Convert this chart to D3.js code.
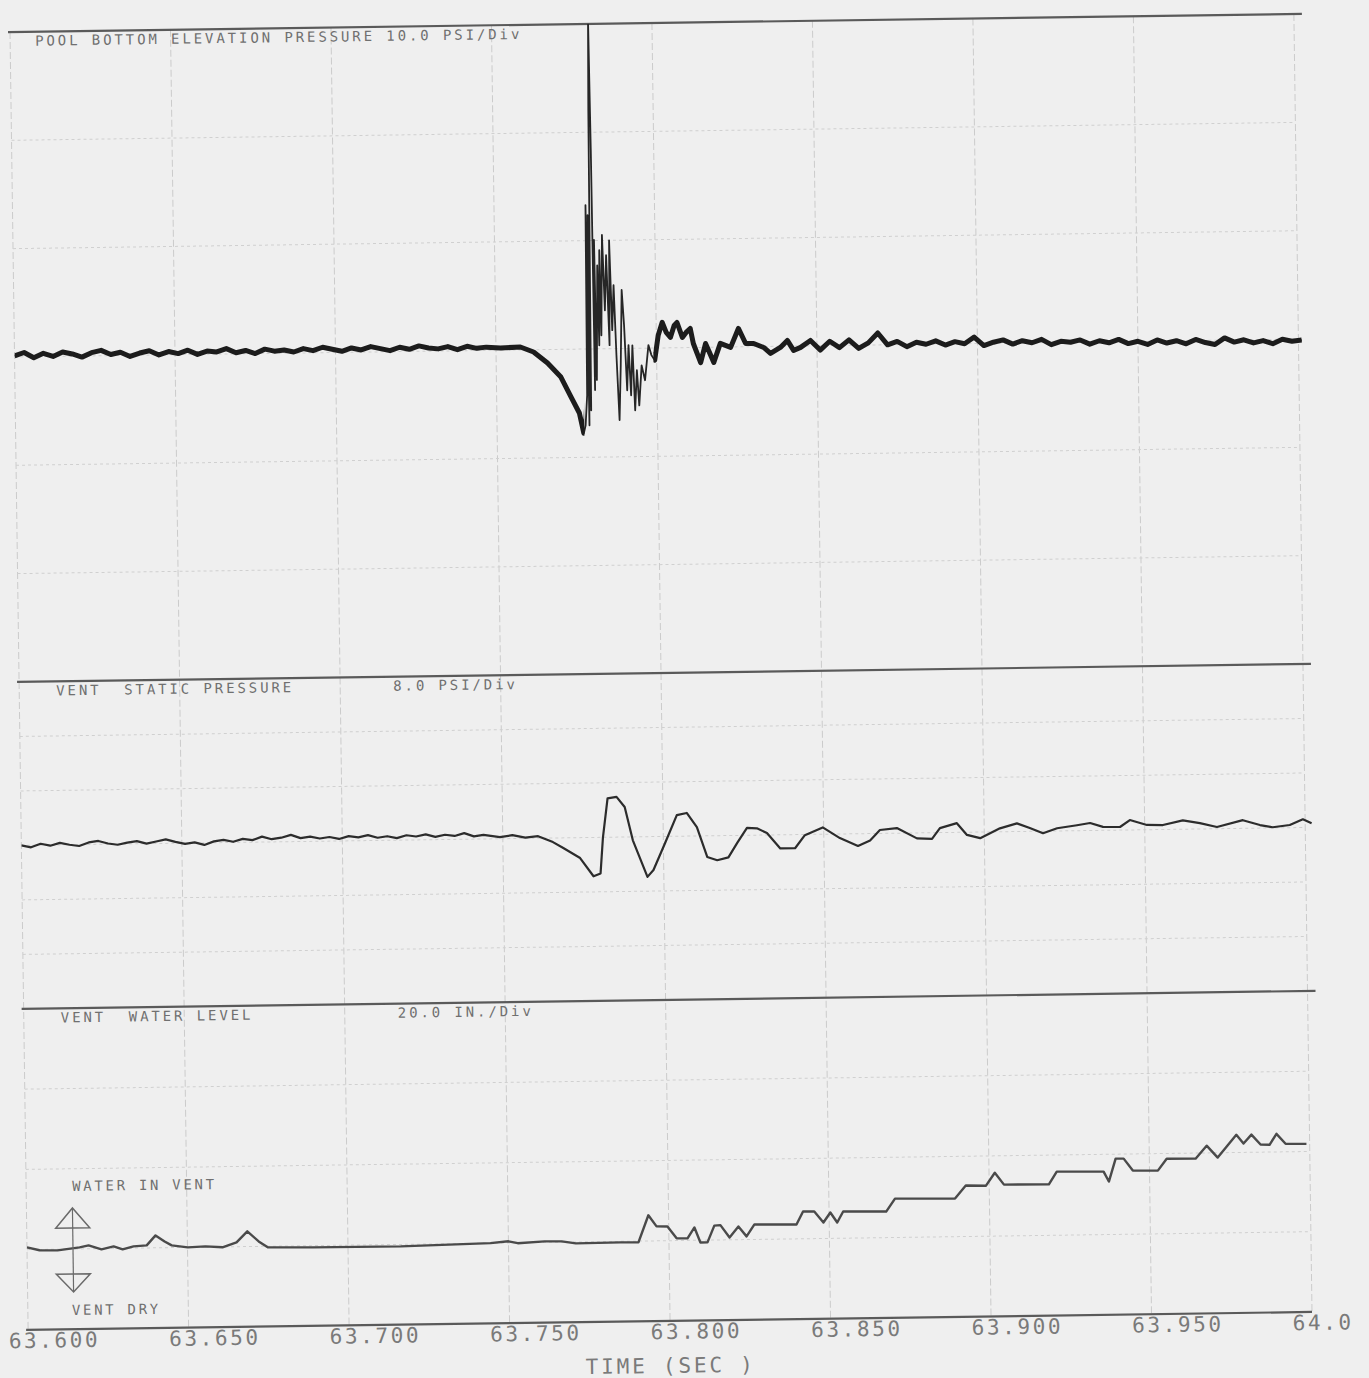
<!DOCTYPE html>
<html>
<head>
<meta charset="utf-8">
<title>Pool bottom and vent traces</title>
<script src="https://cdn.jsdelivr.net/npm/d3@7"></script>
<style>
  body { margin: 0; background: #efefef; }
  svg { display: block; }
  text { font-family: 'DejaVu Sans Mono', monospace; fill: #707070; white-space: pre; }
</style>
</head>
<body>
<svg id="chart"></svg>
<script>
// time axis
var timeTicks = [63.600, 63.650, 63.700, 63.750, 63.800, 63.850, 63.900, 63.950, 64.000];
var timeLabels = ['63.600', '63.650', '63.700', '63.750', '63.800', '63.850', '63.900', '63.950', '64.0'];

// panel titles
var panelTitles = [
  ['POOL BOTTOM ELEVATION PRESSURE 10.0 PSI/Div', ''],
  ['VENT  STATIC PRESSURE', '8.0 PSI/Div'],
  ['VENT  WATER LEVEL', '20.0 IN./Div']
];

// pool bottom elevation pressure, [sec, psi]
var poolBottom = [
  [63.600, 0.1], [63.603, 0.4], [63.606, -0.1], [63.609, 0.3], [63.612, 0.0], [63.615, 0.4],
  [63.618, 0.2], [63.621, -0.1], [63.624, 0.3], [63.627, 0.5], [63.630, 0.1], [63.633, 0.3],
  [63.636, -0.1], [63.639, 0.2], [63.642, 0.4], [63.645, 0.0], [63.648, 0.3], [63.651, 0.1],
  [63.654, 0.4], [63.657, 0.0], [63.660, 0.3], [63.663, 0.2], [63.666, 0.5], [63.669, 0.1],
  [63.672, 0.3], [63.675, 0.0], [63.678, 0.4], [63.681, 0.2], [63.684, 0.3], [63.687, 0.1],
  [63.690, 0.4], [63.693, 0.2], [63.696, 0.5], [63.699, 0.3], [63.702, 0.1], [63.705, 0.4],
  [63.708, 0.2], [63.711, 0.5], [63.714, 0.3], [63.717, 0.1], [63.720, 0.4], [63.723, 0.2],
  [63.726, 0.5], [63.729, 0.3], [63.732, 0.2], [63.735, 0.4], [63.738, 0.1], [63.741, 0.4],
  [63.744, 0.2], [63.747, 0.3], [63.7514, 0.2], [63.7576, 0.27], [63.7617, -0.21],
  [63.7660, -1.25], [63.7701, -2.56], [63.7732, -4.42], [63.7757, -5.9], [63.7770, -7.78],
  [63.7776, -7.04], [63.7782, -4.28], [63.7785, 13.27], [63.7788, -7.05], [63.7791, 12.35],
  [63.7794, -5.66], [63.7798, 22.05], [63.7801, 30.3], [63.7804, 18.34], [63.7807, -3.8],
  [63.7810, 10.05], [63.7813, -2.87], [63.7819, 7.7], [63.7822, 0.33], [63.7826, 9.1],
  [63.7829, 1.25], [63.7835, 10.5], [63.7841, 3.55], [63.7847, 8.63], [63.7854, 0.32],
  [63.7857, 10.0], [63.7863, 1.7], [63.7869, 5.85], [63.7875, -0.62], [63.7882, -6.6],
  [63.7888, -1.53], [63.7894, 5.4], [63.7900, 2.15], [63.7907, -3.86], [63.7913, 0.3],
  [63.7919, -4.33], [63.7925, 0.28], [63.7931, -5.72], [63.7938, -2.03], [63.7944, -5.27],
  [63.7953, -1.58], [63.7963, -2.96], [63.7975, 0.28], [63.7984, -0.65], [63.7994, -1.12],
  [63.8006, 1.18], [63.8019, 2.36], [63.8031, 1.43], [63.8044, 0.97], [63.8056, 2.06],
  [63.8065, 2.33], [63.8081, 0.94], [63.8093, 1.4], [63.8106, 1.76], [63.8115, 0.37],
  [63.8137, -1.4], [63.8153, 0.35], [63.8178, -1.4], [63.8199, 0.34], [63.8231, -0.04],
  [63.8256, 1.7], [63.8278, 0.3], [63.8303, 0.29], [63.8334, -0.09], [63.8355, -0.65],
  [63.8386, -0.11], [63.8408, 0.53], [63.8427, -0.4], [63.8449, -0.13], [63.848, 0.5],
  [63.851, -0.4], [63.854, 0.4], [63.857, -0.2], [63.860, 0.5], [63.863, -0.3], [63.866, 0.2],
  [63.869, 1.1], [63.872, 0.0], [63.875, 0.3], [63.878, -0.2], [63.881, 0.2], [63.884, 0.0],
  [63.887, 0.3], [63.890, -0.1], [63.893, 0.2], [63.896, 0.0], [63.899, 0.6], [63.902, -0.2],
  [63.905, 0.1], [63.908, 0.3], [63.911, -0.1], [63.914, 0.2], [63.917, 0.0], [63.920, 0.3],
  [63.923, -0.2], [63.926, 0.1], [63.929, 0.0], [63.932, 0.2], [63.935, -0.2], [63.938, 0.1],
  [63.941, -0.1], [63.944, 0.2], [63.947, -0.2], [63.950, 0.0], [63.953, -0.3], [63.956, 0.1],
  [63.959, -0.2], [63.962, 0.0], [63.965, -0.3], [63.968, 0.1], [63.971, -0.2], [63.974, -0.4],
  [63.977, 0.2], [63.980, -0.2], [63.983, 0.0], [63.986, -0.3], [63.989, -0.1], [63.992, -0.4],
  [63.995, 0.0], [63.998, -0.2], [64.001, -0.1]
];

// vent static pressure, [sec, psi]
var ventStatic = [
  [63.600, 0.0], [63.603, -0.3], [63.606, 0.2], [63.609, -0.1], [63.612, 0.3], [63.615, 0.0],
  [63.618, -0.2], [63.621, 0.3], [63.624, 0.5], [63.627, 0.1], [63.630, -0.1], [63.633, 0.2],
  [63.636, 0.4], [63.639, 0.0], [63.642, 0.3], [63.645, 0.6], [63.648, 0.2], [63.651, -0.1],
  [63.654, 0.1], [63.657, -0.3], [63.660, 0.2], [63.663, 0.4], [63.666, 0.1], [63.669, 0.5],
  [63.672, 0.3], [63.675, 0.8], [63.678, 0.4], [63.681, 0.6], [63.684, 1.0], [63.687, 0.5],
  [63.690, 0.7], [63.693, 0.4], [63.696, 0.6], [63.699, 0.3], [63.702, 0.7], [63.705, 0.5],
  [63.708, 0.8], [63.711, 0.4], [63.714, 0.6], [63.717, 0.3], [63.720, 0.7], [63.723, 0.5],
  [63.726, 0.8], [63.729, 0.4], [63.732, 0.7], [63.735, 0.5], [63.738, 0.9], [63.741, 0.4],
  [63.744, 0.6], [63.7491, 0.24], [63.753, 0.5], [63.757, 0.1], [63.761, 0.3],
  [63.7656, -0.6], [63.7688, -1.5], [63.7740, -3.0], [63.7781, -5.7], [63.7803, -5.3],
  [63.7812, 0.0], [63.7828, 5.7], [63.7856, 5.9], [63.7881, 4.4], [63.7905, -0.5],
  [63.7949, -5.9], [63.7968, -4.9], [63.8005, -1.0], [63.8043, 3.1], [63.8074, 3.4],
  [63.8105, 1.3], [63.8136, -3.1], [63.8167, -3.6], [63.8202, -3.2], [63.8230, -1.1],
  [63.8261, 1.1], [63.8292, 1.0], [63.8323, 0.3], [63.8364, -2.0], [63.8410, -2.0],
  [63.8441, -0.1], [63.8497, 1.0], [63.8550, -0.6], [63.8606, -1.8], [63.8644, -1.0],
  [63.8675, 0.5], [63.8728, 0.75], [63.8790, -0.8], [63.8837, -0.9], [63.8862, 0.65],
  [63.8915, 1.35], [63.8946, -0.4], [63.8987, -0.9], [63.9049, 0.5], [63.9102, 1.2],
  [63.9142, 0.5], [63.9183, -0.3], [63.9227, 0.4], [63.9289, 0.8], [63.9330, 1.1],
  [63.9370, 0.5], [63.9423, 0.45], [63.9454, 1.45], [63.9507, 0.7], [63.9557, 0.65],
  [63.9619, 1.3], [63.9672, 0.85], [63.9725, 0.25], [63.9806, 1.2], [63.9859, 0.45],
  [63.9899, 0.1], [63.9952, 0.4], [63.9993, 1.2], [64.002, 0.6]
];

// vent water level, [sec, in]
var ventLevel = [
  [63.600, 0.57], [63.6039, -0.2], [63.6095, -0.3], [63.6164, 0.37], [63.6192, 0.84],
  [63.6232, -0.2], [63.6270, 0.5], [63.6298, -0.27], [63.6332, 0.45], [63.6373, 0.65],
  [63.6401, 3.1], [63.6429, 1.56], [63.6451, 0.55], [63.6501, 0.0], [63.6556, 0.2],
  [63.6609, -0.1], [63.6653, 1.1], [63.6687, 3.8], [63.6722, 1.25], [63.6750, -0.27],
  [63.6890, -0.42], [63.7164, -0.5], [63.7444, 0.0], [63.7500, 0.4], [63.7529, -0.1],
  [63.7613, 0.25], [63.7666, 0.2], [63.7710, -0.35], [63.7849, -0.25], [63.7905, -0.3],
  [63.7937, 6.4], [63.7962, 3.6], [63.7996, 3.55], [63.8024, 0.55], [63.8058, 0.5],
  [63.8080, 3.2], [63.8098, -0.55], [63.8120, -0.57], [63.8142, 3.6], [63.8161, 3.7],
  [63.8189, 0.6], [63.8217, 3.3], [63.8242, 0.8], [63.8267, 3.75], [63.8398, 3.6],
  [63.8419, 6.8], [63.8454, 6.76], [63.8482, 4.0], [63.8504, 6.46], [63.8525, 3.95],
  [63.8544, 6.66], [63.8678, 6.5], [63.8706, 9.7], [63.8893, 9.5], [63.8927, 12.7],
  [63.8990, 12.6], [63.9018, 15.8], [63.9046, 12.8], [63.9186, 12.7], [63.9211, 15.85],
  [63.9357, 15.7], [63.9373, 13.2], [63.9395, 18.9], [63.9420, 18.86], [63.9448, 15.85],
  [63.9526, 15.75], [63.9554, 18.7], [63.9644, 18.6], [63.9679, 21.8], [63.9713, 18.8],
  [63.9772, 24.4], [63.9794, 22.2], [63.9819, 24.4], [63.9847, 21.9], [63.9875, 21.8],
  [63.9897, 24.5], [63.9925, 22.0], [63.9990, 21.9]
];

var width = 1369, height = 1378;
var W = 1284;          // 8 time divisions
var H = 1298;          // bottom of the lowest panel

var svg = d3.select('#chart')
  .attr('width', width)
  .attr('height', height);

// the sheet sits slightly skewed on the scan
var g = svg.append('g')
  .attr('transform', 'translate(10,32) rotate(-0.8)');

var x = d3.scaleLinear()
  .domain([63.6, 64.0])
  .range([0, W]);

var panels = [
  { top: 0, h: 650, dom: [-30, 30], divs: 6, data: poolBottom, color: '#262626', sw: 1.8 },
  { top: 650, h: 327, dom: [-24, 24], divs: 6, data: ventStatic, color: '#2c2c2c', sw: 2.2 },
  { top: 977, h: 321, dom: [-20, 60], divs: 4, data: ventLevel, color: '#4a4a4a', sw: 2.4 }
];

// vertical grid
g.selectAll('.vgrid')
  .data(timeTicks)
  .enter()
  .append('line')
  .attr('x1', d => x(d))
  .attr('x2', d => x(d))
  .attr('y1', 0)
  .attr('y2', H)
  .style('stroke', '#cbcbcb')
  .style('stroke-width', 1)
  .style('stroke-dasharray', '7,3');

panels.forEach(function (p, i) {
  var y = d3.scaleLinear()
    .domain(p.dom)
    .range([p.top + p.h, p.top]);

  var step = (p.dom[1] - p.dom[0]) / p.divs;
  var levels = d3.range(1, p.divs).map(k => p.dom[0] + k * step);

  g.selectAll('.hgrid' + i)
    .data(levels)
    .enter()
    .append('line')
    .attr('x1', 0)
    .attr('x2', W)
    .attr('y1', d => y(d))
    .attr('y2', d => y(d))
    .style('stroke', '#d0d0d0')
    .style('stroke-width', 1)
    .style('stroke-dasharray', '3,3');

  // panel separator
  g.append('line')
    .attr('x1', -2)
    .attr('x2', W + 8)
    .attr('y1', p.top)
    .attr('y2', p.top)
    .style('stroke', '#5a5a5a')
    .style('stroke-width', 2.2);

  g.append('clipPath')
    .attr('id', 'clip' + i)
    .append('rect')
    .attr('x', 0)
    .attr('y', p.top)
    .attr('width', W + 12)
    .attr('height', p.h);

  var line = d3.line()
    .x(d => x(d[0]))
    .y(d => y(d[1]));

  g.append('path')
    .datum(p.data)
    .attr('d', line)
    .attr('clip-path', 'url(#clip' + i + ')')
    .style('fill', 'none')
    .style('stroke', p.color)
    .style('stroke-width', p.sw)
    .style('stroke-linejoin', 'round');

  if (i == 0) {
    // the slow parts of the pool trace print as a heavy band; the ringing stays hairline
    var band = g.append('clipPath').attr('id', 'band0');
    band.append('rect')
      .attr('x', 0).attr('y', 0)
      .attr('width', x(63.7772)).attr('height', p.h);
    band.append('rect')
      .attr('x', x(63.7990)).attr('y', 0)
      .attr('width', W + 12 - x(63.7990)).attr('height', p.h);
    g.append('path')
      .datum(p.data)
      .attr('d', line)
      .attr('clip-path', 'url(#band0)')
      .style('fill', 'none')
      .style('stroke', '#1c1c1c')
      .style('stroke-width', 5)
      .style('stroke-linejoin', 'round');
  }

  var t = g.append('text')
    .attr('y', p.top + 14)
    .style('font-size', '14px')
    .style('letter-spacing', '2.9px');
  t.append('tspan')
    .attr('x', i == 0 ? 25 : 37)
    .text(panelTitles[i][0]);
  if (panelTitles[i][1]) {
    t.append('tspan')
      .attr('x', 374)
      .text(panelTitles[i][1]);
  }
});

// time axis line
g.append('line')
  .attr('x1', -2)
  .attr('x2', W)
  .attr('y1', H)
  .attr('y2', H)
  .style('stroke', '#5a5a5a')
  .style('stroke-width', 2.2);

var xAxis = d3.axisBottom(x)
  .tickValues(timeTicks)
  .tickSize(0)
  .tickFormat((d, i) => timeLabels[i]);

var ax = g.append('g')
  .attr('transform', 'translate(0,' + H + ')')
  .call(xAxis);
ax.select('.domain').remove();
ax.selectAll('text')
  .attr('dx', -20)
  .attr('y', 18)
  .attr('dy', 0)
  .attr('text-anchor', 'start')
  .style('font-family', "'DejaVu Sans Mono', monospace")
  .style('font-size', '21px')
  .style('letter-spacing', '2.6px')
  .style('fill', '#7a7a7a');

g.append('text')
  .attr('x', W / 2)
  .attr('y', H + 52)
  .attr('text-anchor', 'middle')
  .style('font-size', '21px')
  .style('letter-spacing', '2.8px')
  .style('fill', '#7a7a7a')
  .text('TIME (SEC )');

// water in vent / vent dry marker
var yLevel = d3.scaleLinear().domain([-20, 60]).range([H, 977]);
var mx = 46;
g.append('path')
  .attr('d', 'M' + (mx - 17) + ',' + (yLevel(0) - 21) + 'L' + mx + ',' + (yLevel(0) - 41) +
    'L' + (mx + 17) + ',' + (yLevel(0) - 21) + 'Z')
  .style('fill', 'none')
  .style('stroke', '#6a6a6a')
  .style('stroke-width', 1.5);
g.append('path')
  .attr('d', 'M' + (mx - 17) + ',' + (yLevel(0) + 25) + 'L' + mx + ',' + (yLevel(0) + 43) +
    'L' + (mx + 17) + ',' + (yLevel(0) + 25) + 'Z')
  .style('fill', 'none')
  .style('stroke', '#6a6a6a')
  .style('stroke-width', 1.5);
g.append('line')
  .attr('x1', mx).attr('x2', mx)
  .attr('y1', yLevel(0) - 41).attr('y2', yLevel(0) + 43)
  .style('stroke', '#6a6a6a')
  .style('stroke-width', 1.2);

g.append('text')
  .attr('x', 46)
  .attr('y', yLevel(0) - 58)
  .style('font-size', '14px')
  .style('letter-spacing', '2.7px')
  .text('WATER IN VENT');
g.append('text')
  .attr('x', 44)
  .attr('y', yLevel(0) + 66)
  .style('font-size', '14px')
  .style('letter-spacing', '2.7px')
  .text('VENT DRY');
</script>
</body>
</html>
